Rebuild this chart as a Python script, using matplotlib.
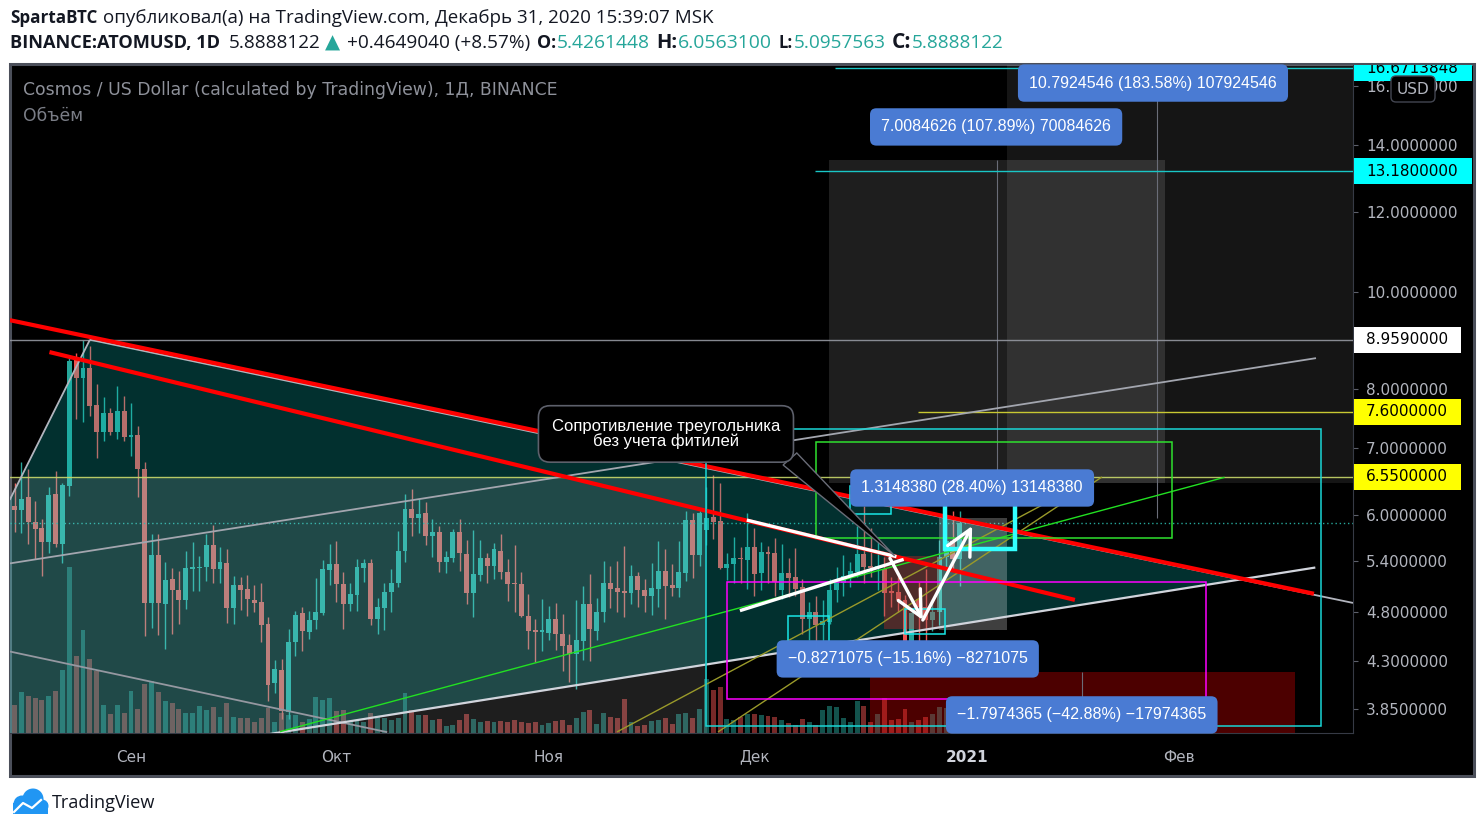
import numpy as np
import matplotlib
matplotlib.use("Agg")
import matplotlib.pyplot as plt
import matplotlib.transforms as mtransforms
from matplotlib.patches import Rectangle, Polygon, Circle, FancyBboxPatch
from matplotlib.ticker import FixedLocator, NullLocator, FuncFormatter

W, H = 1484, 831

# ---- daily candles BINANCE:ATOMUSD, day 0 = 1 Sep 2020 ----
first_day = -17  # 15 Aug 2020
opens = [
    6.12, 6.07, 6.25, 5.91, 5.82, 5.64, 6.29, 5.61, 6.41, 8.55,
    8.20, 8.40, 7.72, 7.26, 7.57, 7.25, 7.61, 7.17, 7.20, 6.66,
    4.91, 5.47, 4.89, 5.18, 5.05, 4.94, 5.30, 5.31, 5.33, 5.60,
    5.30, 5.38, 4.85, 5.11, 5.06, 4.94, 4.92, 4.67, 4.08, 4.21,
    3.82, 4.49, 4.79, 4.59, 4.72, 4.79, 5.29, 5.36, 5.12, 4.89,
    5.00, 5.31, 5.37, 4.73, 4.85, 5.03, 5.14, 5.52, 6.08, 5.96,
    6.03, 5.72, 5.77, 5.39, 5.44, 5.77, 5.49, 5.02, 5.23, 5.44,
    5.34, 5.53, 5.27, 5.13, 5.12, 4.76, 4.60, 4.59, 4.58, 4.73,
    4.57, 4.46, 4.36, 4.50, 4.89, 4.60, 4.80, 5.14, 5.08, 5.03,
    5.02, 5.22, 5.05, 4.98, 5.07, 5.28, 5.11, 5.08, 5.25, 5.93,
    5.47, 5.80, 5.97, 5.92, 5.32, 5.36, 5.44, 5.41, 5.57, 5.25,
    5.51, 5.50, 5.05, 5.25, 5.20, 5.09, 4.73, 4.81, 4.66, 4.70,
    5.05, 5.13, 5.20, 5.27, 5.49, 5.34, 5.32, 5.30, 5.03, 5.03,
    4.94, 4.48, 4.95, 4.86, 4.72, 4.81, 5.45, 5.65, 5.4261448,
]
highs = [
    6.45, 6.77, 6.67, 6.20, 5.95, 6.40, 6.63, 6.45, 8.60, 8.70,
    8.96, 8.83, 8.10, 7.86, 7.66, 8.06, 7.87, 7.76, 7.35, 6.77,
    5.74, 5.74, 5.39, 5.32, 5.28, 5.52, 5.64, 5.46, 5.74, 5.86,
    5.58, 5.55, 5.22, 5.20, 5.23, 5.11, 5.13, 4.75, 4.31, 4.32,
    4.62, 4.82, 4.86, 4.82, 5.19, 5.41, 5.61, 5.65, 5.27, 5.14,
    5.42, 5.43, 5.42, 4.96, 5.14, 5.30, 5.79, 6.29, 6.37, 6.23,
    6.18, 5.95, 5.85, 5.53, 5.81, 5.94, 5.67, 5.80, 5.67, 5.50,
    5.63, 5.74, 5.42, 5.60, 5.26, 5.01, 4.73, 4.95, 4.87, 4.90,
    4.78, 4.57, 4.94, 5.10, 5.24, 4.96, 5.40, 5.34, 5.40, 5.59,
    5.35, 5.26, 5.18, 5.37, 5.65, 5.55, 5.36, 5.65, 6.05, 6.03,
    6.06, 6.40, 6.58, 6.46, 5.50, 5.71, 5.57, 6.02, 5.82, 5.64,
    5.59, 5.69, 5.62, 5.44, 5.56, 5.18, 4.92, 4.98, 4.94, 5.18,
    5.33, 5.47, 5.39, 5.85, 6.12, 5.83, 5.70, 5.45, 5.20, 5.20,
    5.00, 4.85, 5.15, 5.30, 4.95, 5.67, 5.90, 6.05, 6.0563100,
]
lows = [
    5.77, 5.76, 5.61, 5.43, 5.22, 5.50, 5.57, 5.38, 6.27, 7.47,
    7.42, 7.52, 6.84, 7.11, 7.20, 7.14, 7.10, 6.86, 6.25, 4.55,
    4.63, 4.56, 4.42, 4.57, 4.67, 4.84, 5.04, 5.04, 5.16, 5.13,
    5.13, 4.69, 4.67, 4.83, 4.76, 4.80, 4.49, 3.92, 3.99, 3.76,
    3.76, 4.34, 4.39, 4.52, 4.62, 4.77, 5.11, 4.92, 4.62, 4.82,
    4.82, 5.15, 4.66, 4.57, 4.61, 4.81, 5.09, 5.39, 5.72, 5.76,
    5.60, 5.45, 5.27, 5.25, 5.39, 5.28, 4.89, 4.75, 5.16, 5.14,
    5.18, 5.18, 4.93, 4.81, 4.75, 4.42, 4.29, 4.39, 4.51, 4.40,
    4.20, 4.09, 4.03, 4.31, 4.30, 4.51, 4.70, 4.85, 4.81, 4.75,
    4.89, 4.86, 4.81, 4.77, 4.86, 4.73, 4.98, 4.97, 5.16, 5.19,
    5.34, 5.60, 5.68, 5.30, 5.17, 5.13, 5.14, 5.06, 4.99, 5.05,
    5.14, 4.98, 4.95, 4.97, 4.99, 4.57, 4.51, 4.50, 4.50, 4.67,
    4.92, 4.98, 5.09, 5.20, 5.13, 5.20, 5.05, 4.76, 4.86, 4.80,
    4.42, 4.29, 4.45, 4.50, 4.60, 4.66, 5.30, 5.30, 5.0957563,
]
closes = [
    6.07, 6.23, 5.91, 5.81, 5.64, 6.28, 5.61, 6.42, 8.53, 8.20,
    8.40, 7.70, 7.26, 7.57, 7.25, 7.61, 7.17, 7.21, 6.66, 4.91,
    5.47, 4.91, 5.17, 5.05, 4.94, 5.32, 5.32, 5.33, 5.60, 5.30,
    5.39, 4.85, 5.11, 5.05, 4.95, 4.91, 4.66, 4.07, 4.22, 3.83,
    4.49, 4.77, 4.60, 4.72, 4.81, 5.30, 5.36, 5.12, 4.89, 5.01,
    5.33, 5.38, 4.73, 4.86, 5.03, 5.14, 5.53, 6.08, 5.96, 6.01,
    5.72, 5.77, 5.39, 5.45, 5.77, 5.50, 5.02, 5.24, 5.44, 5.34,
    5.55, 5.26, 5.12, 5.12, 4.76, 4.60, 4.59, 4.60, 4.73, 4.57,
    4.45, 4.36, 4.51, 4.89, 4.62, 4.80, 5.13, 5.07, 5.03, 5.02,
    5.22, 5.05, 4.98, 5.08, 5.28, 5.10, 5.08, 5.27, 5.93, 5.47,
    6.03, 5.96, 5.90, 5.32, 5.36, 5.44, 5.42, 5.57, 5.24, 5.51,
    5.49, 5.15, 5.25, 5.19, 5.07, 4.73, 4.80, 4.66, 4.71, 5.05,
    5.15, 5.22, 5.28, 5.49, 5.33, 5.32, 5.33, 5.02, 5.02, 4.94,
    4.48, 4.79, 4.86, 4.72, 4.81, 5.45, 5.65, 5.424, 5.8888122,
]
volumes = [
    28, 41, 37, 35, 33, 37, 42, 63, 166, 77, 103, 74, 62, 28, 19, 28, 20, 42, 24, 49,
    52, 41, 32, 30, 24, 20, 20, 27, 23, 26, 16, 30, 16, 15, 15, 11, 15, 25, 11, 20,
    18, 18, 11, 14, 36, 33, 35, 22, 23, 12, 13, 11, 20, 16, 15, 13, 15, 40, 23, 18,
    18, 13, 14, 7, 8, 13, 19, 14, 11, 12, 11, 12, 11, 13, 11, 10, 11, 8, 10, 12,
    13, 8, 15, 21, 23, 9, 20, 16, 15, 34, 11, 7, 8, 12, 13, 15, 9, 19, 20, 15,
    24, 54, 43, 46, 14, 13, 16, 19, 19, 18, 17, 16, 13, 10, 8, 14, 11, 8, 23, 27,
    26, 15, 11, 32, 27, 11, 19, 35, 13, 14, 24, 11, 13, 16, 19, 26, 25, 32, 29,
]
last_price = 5.8888122

month_days = [0, 30, 61, 91, 122, 153]
month_labels = ["Сен", "Окт", "Ноя", "Дек", "2021", "Фев"]
price_ticks = [3.85, 4.3, 4.8, 5.4, 6.0, 7.0, 8.0, 10.0, 12.0, 14.0, 16.0]

# ---- author's drawings, anchors as (day, price) ----
red_upper = [(-17.7, 9.37), (172.7, 5.01)]
red_lower = [(-11.9, 8.71), (137.8, 4.94)]
tri_left = [(-17.7, 6.21), (-6.0, 8.96)]
tri_top = [(-6.0, 8.96), (178.4, 4.906)]
tri_apex = (161.96, 5.176)
support = [(20.3, 3.635), (172.9, 5.32)]
channel_top = [(-17.7, 5.37), (173.0, 8.59)]
channel_low = [(-17.7, 4.39), (37.4, 3.65)]
green_line = [(21.75, 3.654), (159.65, 6.54)]
olive_a = [(70.95, 3.652), (139.7, 6.49)]
olive_b = [(85.7, 3.652), (141.75, 6.545)]
wedge_hi = [(89.9, 5.93), (111.75, 5.454)]
wedge_lo = [(88.9, 4.82), (112.8, 5.42)]
zigzag = [(110.8, 5.434), (115.6, 4.718), (122.8, 5.851)]

full_levels = [8.959, 6.55]
level_starts = [(114.9, 7.6, "#c8c832"), (99.85, 13.18, "#19c6c6"), (102.8, 16.6713848, "#19c6c6")]

# rectangles: day0, day1, price_low, price_high
grey_zone = (-17.7, 84.1, 3.6, 6.55)
proj_a = (101.9, 150.95, 6.456, 13.52)
proj_b = (127.9, 178.4, 6.456, 17.5)
white_box = (117.95, 127.9, 4.61, 5.96)
red_box = (109.9, 117.95, 4.622, 5.463)
dark_red = (107.9, 169.9, 3.6, 4.189)
magenta_box = (86.96, 156.9, 3.938, 5.141)
lime_box = (99.97, 151.97, 5.689, 7.096)
cyan_big = (83.95, 173.8, 3.703, 7.30)
cyan_small = [(104.96, 110.95, 6.01, 6.412), (95.9, 101.9, 4.377, 4.764), (113.0, 118.9, 4.567, 4.836)]
cyan_thick = (118.8, 129.0, 5.547, 6.257)
vlines_grey = [(126.4, 6.456, 13.52), (149.8, 5.96, 17.5), (138.8, 3.6, 4.189)]

blue_labels = [
    (149.2, 16.12, "10.7924546 (183.58%) 107924546"),
    (126.3, 14.58, "7.0084626 (107.89%) 70084626"),
    (122.8, 6.382, "1.3148380 (28.40%) 13148380"),
    (113.4, 4.316, "\u22120.8271075 (\u221215.16%) \u22128271075"),
    (138.8, 3.797, "\u22121.7974365 (\u221242.88%) \u221217974365"),
]
callout_center = (78.1, 7.222)
callout_tail = [(95.2, 6.727), (97.2, 6.914), (111.5, 5.463)]
callout_text = "Сопротивление треугольника\nбез учета фитилей"

# ---- figure ----
fig = plt.figure(figsize=(W / 100, H / 100), dpi=100)
fig.patch.set_facecolor("white")
px = mtransforms.Affine2D().scale(1, -1).translate(0, H)  # top-left pixel coords

fig.add_artist(Rectangle((10, 64), 1464, 712, transform=px, fc="black",
                         ec="#4b4f5a", lw=2.2, zorder=-1))

rect = [10 / W, (H - 733) / H, 1343 / W, 668 / H]
ax_vol = fig.add_axes(rect, zorder=0)
ax_vol.set_axis_off()
ax = fig.add_axes(rect, sharex=ax_vol, zorder=1)
ax.patch.set_visible(False)

days = np.arange(first_day, first_day + len(opens))
o = np.array(opens); h = np.array(highs); l = np.array(lows); c = np.array(closes)
up = c >= o

# volume (drawn first, below everything)
vol_cols = np.where(up, "#26a69a", "#ef5350")
ax_vol.bar(days, volumes, width=0.72, color=vol_cols, alpha=0.5, linewidth=0)
ax_vol.set_ylim(0, max(volumes) * 4.02)

# candles
cols = np.where(up, "#26a69a", "#ef5350")
ax.vlines(days, l, h, colors=cols, lw=1.0, zorder=2)
lo_b = np.minimum(o, c)
hi_b = np.maximum(np.maximum(o, c), lo_b * 1.004)
ax.bar(days, hi_b - lo_b, bottom=lo_b, width=0.72, color=cols, linewidth=0, zorder=2.1)

ax.set_yscale("log")
ax.set_ylim(3.643, 16.80)
ax.set_xlim(-17.66, 178.4)

ax.axhline(last_price, color="#26a69a", ls=(0, (1, 2)), lw=1, zorder=2.5)


def seg(pts, **kw):
    xs, ys = zip(*pts)
    ax.plot(xs, ys, solid_capstyle="butt", **kw)


def box(r, **kw):
    d0, d1, p0, p1 = r
    ax.add_patch(Rectangle((d0, p0), d1 - d0, p1 - p0, **kw))


# translucent zones drawn over the candles
ax.add_patch(Polygon([tri_left[0], tri_left[1], tri_apex, support[0], (-17.7, 3.6)],
                     closed=True, fc="#0ac0bc", alpha=0.25, ec="none", zorder=3))
box(grey_zone, fc="white", alpha=0.12, ec="none", zorder=3)
box(proj_a, fc="white", alpha=0.12, ec="none", zorder=3)
box(proj_b, fc="white", alpha=0.085, ec="none", zorder=3)
box(white_box, fc="white", alpha=0.25, ec="none", zorder=3)
box(red_box, fc="#ff2020", alpha=0.3, ec="none", zorder=3)
box(dark_red, fc="#ff0000", alpha=0.3, ec="none", zorder=3)

for d, p0, p1 in vlines_grey:
    ax.vlines(d, p0, p1, color="#6a6d78", lw=0.8, zorder=3.2)

# levels
for p in full_levels:
    ax.axhline(p, color="#9598a1" if p > 8 else "#c9d86a", lw=1, zorder=3.5,
               alpha=0.9)
for d0, p, col in level_starts:
    ax.hlines(p, d0, 178.4, color=col, lw=1, zorder=3.5)

# trend lines
seg(channel_low, color="#9598a1", lw=1.3, zorder=4)
seg(channel_top, color="#a3a6af", lw=1.3, zorder=4)
seg(tri_left, color="#b2b5be", lw=1.3, zorder=4)
seg(tri_top, color="#b2b5be", lw=1.3, zorder=4)
seg(support, color="#d1d4dc", lw=1.6, zorder=4)
seg(green_line, color="#22e022", lw=1.0, zorder=4)
seg(olive_a, color="#9a9a2a", lw=1.0, zorder=4)
seg(olive_b, color="#9a9a2a", lw=1.0, zorder=4)
seg(red_upper, color="#ff0000", lw=3.0, zorder=4.2)
seg(red_lower, color="#ff0000", lw=3.0, zorder=4.2)
seg(wedge_hi, color="white", lw=2.4, zorder=4.5)
seg(wedge_lo, color="white", lw=2.4, zorder=4.5)
for a, b in zip(zigzag[:-1], zigzag[1:]):
    ax.annotate("", xy=b, xytext=a, zorder=4.6,
                arrowprops=dict(arrowstyle="->,head_length=0.9,head_width=0.45",
                                color="white", lw=2.4, mutation_scale=20,
                                shrinkA=0, shrinkB=0))

# outlined rectangles
box(magenta_box, fc="none", ec="#ff00ff", lw=1.1, zorder=4.3)
box(lime_box, fc="none", ec="#2ee02e", lw=1.1, zorder=4.3)
box(cyan_big, fc="none", ec="#19d6d6", lw=1.1, zorder=4.3)
for r in cyan_small:
    box(r, fc="none", ec="#19e6e6", lw=1.1, zorder=4.3)
box(cyan_thick, fc="none", ec="#33ffff", lw=3.2, zorder=4.4)

# callout
ax.add_patch(Polygon(callout_tail, closed=True, fc="black", ec="#6a6d78", lw=1,
                     zorder=5.5))
ax.text(*callout_center, callout_text, ha="center", va="center", color="white",
        fontsize=12, family="Liberation Sans", linespacing=0.92, zorder=5.6,
        bbox=dict(boxstyle="round,pad=0.8,rounding_size=0.7", fc="black",
                  ec="#5d606b", lw=1.2))

for d, p, s in blue_labels:
    ax.text(d, p, s, ha="center", va="center", color="white", fontsize=11.5,
            family="Liberation Sans", zorder=6,
            bbox=dict(boxstyle="round,pad=0.7,rounding_size=0.4", fc="#4a7bd3",
                      ec="none"))

# axes styling
for s in ["left", "top"]:
    ax.spines[s].set_visible(False)
for s in ["right", "bottom"]:
    ax.spines[s].set_color("#363a45")
ax.yaxis.tick_right()
ax.yaxis.set_major_locator(FixedLocator(price_ticks))
ax.yaxis.set_minor_locator(NullLocator())
ax.yaxis.set_major_formatter(FuncFormatter(lambda v, _: f"{v:.7f}"))
ax.tick_params(axis="y", colors="#b2b5be", labelsize=11, length=3.5, pad=6,
               width=0.8)
ax.tick_params(axis="y", which="both", color="#5d606b")
ax.set_xticks(month_days)
ax.set_xticklabels(month_labels)
ax.tick_params(axis="x", colors="#b2b5be", labelsize=11, length=0, pad=12)
for t in ax.get_xticklabels():
    if t.get_text() == "2021":
        t.set_fontweight("bold")
        t.set_color("#d1d4dc")

# price tags on the axis
clip = mtransforms.Bbox.from_extents(1353, H - 776, 1474, H - 65)


def axis_tag(price, text, bg, right_px):
    yd = ax.transData.transform((0, price))[1]
    r = Rectangle((1354, yd - 13), right_px - 1354, 26,
                  transform=mtransforms.IdentityTransform(), fc=bg, ec="none", zorder=5)
    r.set_clip_box(clip)
    fig.add_artist(r)
    t = fig.text(1366 / W, yd / H, text, color="black", fontsize=11, va="center",
                 ha="left", zorder=6)
    t.set_clip_box(clip)


axis_tag(16.6713848, "16.6713848", "#00ffff", 1472)
axis_tag(13.18, "13.1800000", "#00ffff", 1472)
axis_tag(8.959, "8.9590000", "#ffffff", 1461)
axis_tag(7.6, "7.6000000", "#ffff00", 1461)
axis_tag(6.55, "6.5500000", "#ffff00", 1461)

fig.add_artist(FancyBboxPatch((1391, 76), 44, 26, transform=px,
                              boxstyle="round,pad=0,rounding_size=5", fc="black",
                              ec="#434651", lw=1, zorder=7))
fig.text(1413 / W, 1 - 89 / H, "USD", color="#b2b5be", fontsize=11, ha="center",
         va="center", zorder=8)

# ---- texts outside the plot ----
renderer = fig.canvas.get_renderer()


def fit(x, y, s, width, size=10, **kw):
    t = fig.text(x / W, 1 - y / H, s, va="center", ha="left", fontsize=size, **kw)
    w = t.get_window_extent(renderer).width
    t.set_fontsize(size * width / w)
    return t


fit(23, 90, "Cosmos / US Dollar (calculated by TradingView), 1Д, BINANCE", 535,
    color="#8e919a", zorder=9)
fit(23, 116, "Объём", 60, color="#7a7d86", zorder=9)

hdr = "Open Sans"
dark = "#131722"
teal = "#26a69a"
fit(10, 18, "SpartaBTC", 87, family=hdr, fontweight="bold", color=dark)
fit(103, 18, "опубликовал(а) на TradingView.com, Декабрь 31, 2020 15:39:07 MSK", 610,
    family=hdr, color=dark)

row2 = [
    (10, 210, "BINANCE:ATOMUSD, 1D", dark, "bold"),
    (229, 92, "5.8888122", dark, "normal"),
    (325, 15, "\u25b2", teal, "normal"),
    (347, 183, "+0.4649040 (+8.57%)", dark, "normal"),
    (537, 19, "O:", dark, "bold"),
    (557, 93, "5.4261448", teal, "normal"),
    (656, 21, "H:", dark, "bold"),
    (678, 94, "6.0563100", teal, "normal"),
    (779, 14, "L:", dark, "bold"),
    (794, 92, "5.0957563", teal, "normal"),
    (892, 19, "C:", dark, "bold"),
    (912, 92, "5.8888122", teal, "normal"),
]
for x0, w0, s, col, fw in row2:
    fam = ["DejaVu Sans"] if s == "\u25b2" else [hdr, "DejaVu Sans"]
    fit(x0, 43, s, w0, family=fam, color=col, fontweight=fw)

# footer logo
cloud = [Circle((22, 804), 8.5), Circle((33, 799), 10.5), Circle((42, 806), 6.5),
         Rectangle((13, 803), 35, 10.5)]
for p in cloud:
    p.set_transform(px)
    p.set_facecolor("#2196f3")
    p.set_edgecolor("none")
    fig.add_artist(p)
line_x = [14, 23, 32, 41]
line_y = [812, 803, 808, 800]
fig.add_artist(plt.Line2D(line_x, line_y, transform=px, color="white", lw=1.6))
fit(52, 803, "TradingView", 104, family=hdr, color=dark)

fig.savefig("out.png", dpi=100, facecolor="white")
